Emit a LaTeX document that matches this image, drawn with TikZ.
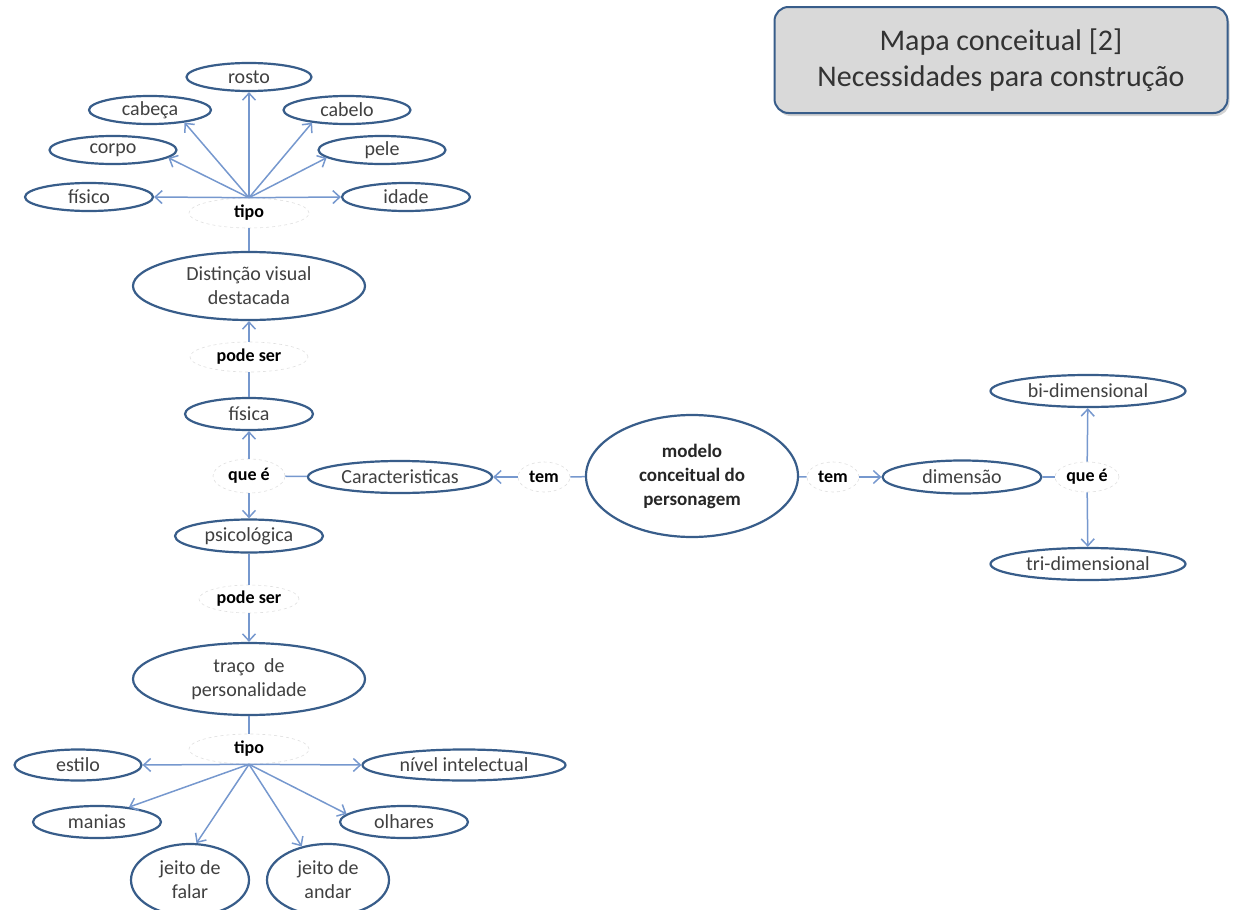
\documentclass[tikz,border=0pt]{standalone}
\usepackage{fontspec}
\setmainfont{Carlito}
\usetikzlibrary{shapes.geometric,arrows.meta,shadows}
\definecolor{mapblue}{RGB}{56,93,138}
\definecolor{linkblue}{RGB}{118,152,206}
\definecolor{textgray}{RGB}{64,64,64}
\definecolor{boxgray}{RGB}{217,217,217}

\tikzset{
  concept/.style={ellipse, draw=mapblue, line width=2.2pt, fill=white, inner sep=0pt,
    text=textgray, align=center, font=\fontsize{20}{24}\selectfont},
  linkword/.style={ellipse, draw=black!12, dashed, line width=0.6pt, fill=white, inner sep=0pt,
    minimum height=30pt, font=\bfseries\fontsize{18}{21}\selectfont},
  conn/.style={draw=linkblue, line width=1.5pt},
  arr/.style={conn, -{Straight Barb[length=7pt,width=13pt,line width=1.5pt]}},
}

\begin{document}
\begin{tikzpicture}[x=1pt, y=-1pt]
    \useasboundingbox (0,0) rectangle (1235,910);

    % Title box
    \node[draw=mapblue, line width=2pt, fill=boxgray, rounded corners=14pt,
          minimum width=453pt, minimum height=106pt, align=center,
          drop shadow={shadow xshift=2pt, shadow yshift=-3pt, opacity=0.35},
          font=\fontsize{30}{36}\selectfont, text=black!80] (title) at (1001,60)
          {Mapa conceitual [2]\\Necessidades para construção};

    % Center and right side
    \node[concept, minimum width=212pt, minimum height=122pt, font=\bfseries\fontsize{19}{24}\selectfont, text=black!85]
          (modelo) at (692,476) {modelo\\conceitual do\\personagem};
    \node[linkword, minimum width=52pt] (temR) at (833,477) {tem};
    \node[concept, minimum width=159pt, minimum height=33pt] (dimensao) at (962,477) {dimensão};
    \node[linkword, minimum width=64pt] (queR) at (1087,477) {que é};
    \node[concept, minimum width=195pt, minimum height=32pt] (bidim) at (1088,391) {bi-dimensional};
    \node[concept, minimum width=195pt, minimum height=32pt] (tridim) at (1088,564) {tri-dimensional};

    % Left side, middle
    \node[linkword, minimum width=52pt] (temL) at (544,477) {tem};
    \node[concept, minimum width=184pt, minimum height=32pt] (caract) at (400,477) {Caracteristicas};
    \node[linkword, minimum width=72pt, minimum height=34pt] (queL) at (249,476) {que é};
    \node[concept, minimum width=128pt, minimum height=32pt] (fisica) at (249,414) {física};
    \node[concept, minimum width=148pt, minimum height=33pt] (psico) at (249,536) {psicológica};
    \node[linkword, minimum width=118pt] (podeA) at (249,357) {pode ser};
    \node[concept, minimum width=232pt, minimum height=68pt] (distin) at (249,286) {Distinção visual\\destacada};
    \node[linkword, minimum width=100pt, minimum height=28pt] (podeB) at (249,599) {pode ser};
    \node[concept, minimum width=232pt, minimum height=72pt] (traco) at (249,679) {traço~~de\\personalidade};

    % Upper group
    \node[linkword, minimum width=120pt] (tipoA) at (249,213) {tipo};
    \node[concept, minimum width=125pt, minimum height=28pt] (rosto) at (249,77) {rosto};
    \node[concept, minimum width=122pt, minimum height=28pt] (cabeca) at (150,110) {cabeça};
    \node[concept, minimum width=127pt, minimum height=28pt] (cabelo) at (347,110) {cabelo};
    \node[concept, minimum width=127pt, minimum height=28pt] (corpo) at (113,150) {corpo};
    \node[concept, minimum width=127pt, minimum height=28pt] (pele) at (382,150) {pele};
    \node[concept, minimum width=128pt, minimum height=28pt] (fisico) at (89,197) {físico};
    \node[concept, minimum width=128pt, minimum height=28pt] (idade) at (406,197) {idade};

    % Lower group
    \node[linkword, minimum width=120pt] (tipoB) at (249,749) {tipo};
    \node[concept, minimum width=127pt, minimum height=31pt] (estilo) at (78,765) {estilo};
    \node[concept, minimum width=203pt, minimum height=31pt] (nivel) at (464,765) {nível intelectual};
    \node[concept, minimum width=128pt, minimum height=32pt] (manias) at (97,822) {manias};
    \node[concept, minimum width=128pt, minimum height=32pt] (olhares) at (404,822) {olhares};
    \node[concept, minimum width=118pt, minimum height=72pt] (falar) at (190,880) {jeito de\\falar};
    \node[concept, minimum width=122pt, minimum height=72pt] (andar) at (328,880) {jeito de\\andar};

    % Connectors
    \draw[conn] (modelo) -- (temL);
    \draw[arr] (temL) -- (caract);
    \draw[conn] (caract) -- (queL);
    \draw[arr] (queL) -- (fisica);
    \draw[arr] (queL) -- (psico);
    \draw[conn] (fisica) -- (podeA);
    \draw[arr] (podeA) -- (distin);
    \draw[conn] (distin) -- (tipoA);
    \draw[conn] (psico) -- (podeB);
    \draw[arr] (podeB) -- (traco);
    \draw[conn] (traco) -- (tipoB);

    \draw[conn] (modelo) -- (temR);
    \draw[arr] (temR) -- (dimensao);
    \draw[conn] (dimensao) -- (queR);
    \draw[arr] (queR) -- (bidim);
    \draw[arr] (queR) -- (tridim);

    % spokes, each to its own point on the ellipse
    \foreach \n/\a in {rosto/-90, cabeca/-20, cabelo/-160, corpo/-8, pele/-172, fisico/0, idade/180}
        \draw[arr] (tipoA.north) -- (\n.\a);
    \foreach \n/\a in {estilo/0, nivel/180, manias/25, olhares/172, falar/80, andar/128}
        \draw[arr] (tipoB.south) -- (\n.\a);
\end{tikzpicture}
\end{document}
